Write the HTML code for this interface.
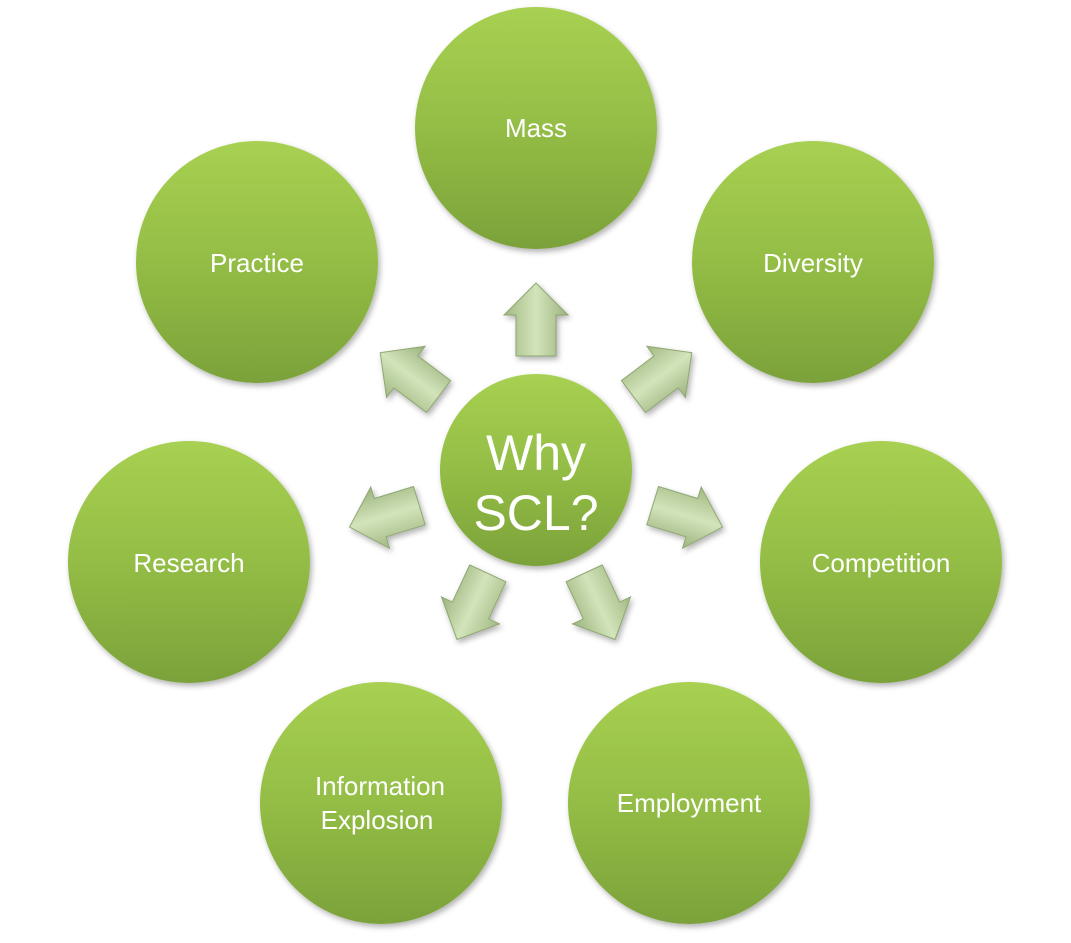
<!DOCTYPE html>
<html><head><meta charset="utf-8"><style>
html,body{margin:0;padding:0;background:#fff;}
body{width:1071px;height:938px;position:relative;overflow:hidden;font-family:"Liberation Sans",sans-serif;}
</style></head><body>
<svg width="1071" height="938" viewBox="0 0 1071 938" xmlns="http://www.w3.org/2000/svg">
<defs>
<linearGradient id="g" x1="0" y1="0" x2="0" y2="1">
<stop offset="0" stop-color="#a8d152"/><stop offset="0.5" stop-color="#93bd45"/><stop offset="1" stop-color="#7ba23a"/>
</linearGradient>
<linearGradient id="a" x1="0" y1="0" x2="1" y2="0">
<stop offset="0" stop-color="#a2b983"/><stop offset="0.5" stop-color="#d3e4bb"/><stop offset="1" stop-color="#9cb37e"/>
</linearGradient>
<filter id="s" x="-20%" y="-20%" width="140%" height="140%"><feDropShadow dx="2" dy="3" stdDeviation="3" flood-color="#000" flood-opacity="0.3"/></filter>
<g id="arr"><polygon points="-20,-114 20,-114 20,-155 32,-155 0,-187 -32,-155 -20,-155" fill="url(#a)" stroke="#8fa772" stroke-width="1"/></g>
<g id="arr2"><polygon points="-20,-122 20,-122 20,-163 32,-163 0,-195 -32,-163 -20,-163" fill="url(#a)" stroke="#8fa772" stroke-width="1"/></g>
</defs>
<g filter="url(#s)">
<g transform="translate(536,470)">
<use href="#arr" transform="rotate(0)"/>
<use href="#arr2" transform="rotate(53)"/>
<use href="#arr2" transform="rotate(107)"/>
<use href="#arr" transform="rotate(155)"/>
<use href="#arr" transform="rotate(-155)"/>
<use href="#arr2" transform="rotate(-107)"/>
<use href="#arr2" transform="rotate(-53)"/>
</g>
<circle cx="536" cy="128" r="121" fill="url(#g)"/>
<circle cx="813" cy="262" r="121" fill="url(#g)"/>
<circle cx="881" cy="562" r="121" fill="url(#g)"/>
<circle cx="689" cy="803" r="121" fill="url(#g)"/>
<circle cx="381" cy="803" r="121" fill="url(#g)"/>
<circle cx="189" cy="562" r="121" fill="url(#g)"/>
<circle cx="257" cy="262" r="121" fill="url(#g)"/>
<circle cx="536" cy="470" r="96" fill="url(#g)"/>
</g>
<g fill="#fff" font-family="Liberation Sans, sans-serif" font-size="26" text-anchor="middle">
<text x="536" y="137">Mass</text>
<text x="813" y="272">Diversity</text>
<text x="881" y="572">Competition</text>
<text x="689" y="812">Employment</text>
<text x="380" y="795">Information</text>
<text x="377" y="829">Explosion</text>
<text x="189" y="572">Research</text>
<text x="257" y="272">Practice</text>
<text x="536" y="470" font-size="50">Why</text>
<text x="536" y="530" font-size="50">SCL?</text>
</g>
</svg>
</body></html>
